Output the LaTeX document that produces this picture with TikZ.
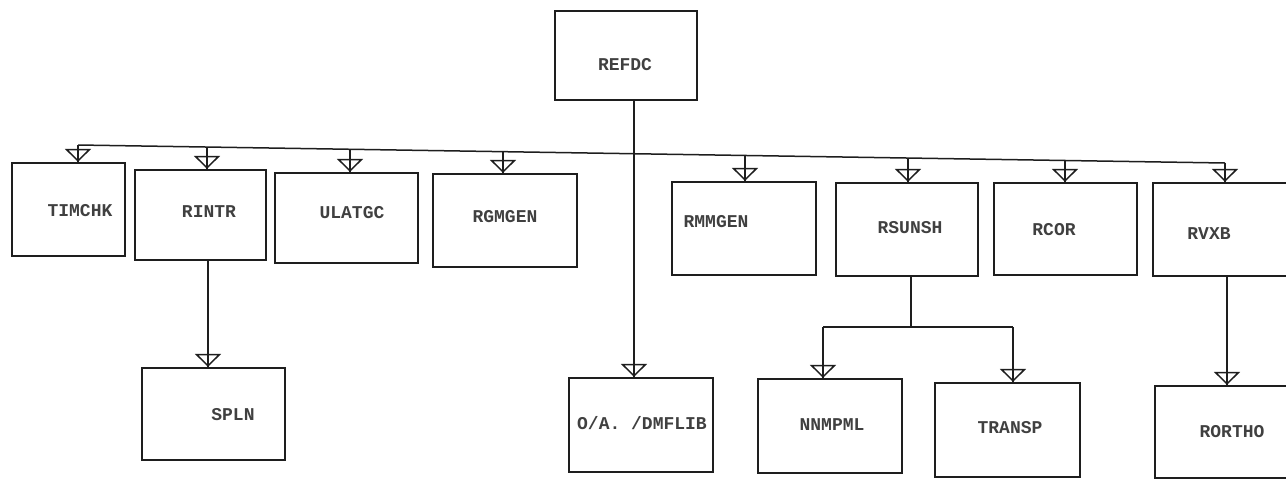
\documentclass[tikz,border=0pt]{standalone}
\usepackage{fontspec}
\setmonofont{Liberation Mono}
\usetikzlibrary{arrows.meta,decorations.markings}
\definecolor{ink}{RGB}{30,30,30}
\tikzset{
  box/.style={draw=ink, line width=2.2pt, rectangle, inner sep=0pt},
  lbl/.style={font=\ttfamily\bfseries\fontsize{18}{18}\selectfont, text=ink!85, inner sep=0pt},
  conn/.style={draw=ink, line width=1.5pt},
  opentip/.style={postaction={decorate}, decoration={markings,
     mark=at position 1 with {\arrow[ink, line width=1.5pt]{Triangle[open, width=26pt, length=13pt]}}}}
}
\newcommand{\boxat}[5]{\node[box, minimum width={(#4-#2)*1pt}, minimum height={(#5-#3)*1pt}] (#1) at ({(#2+#4)/2},{(#3+#5)/2}) {};}
\begin{document}
\begin{tikzpicture}[x=1pt,y=-1pt]
\clip (0,0) rectangle (1286,491);
\fill[white] (0,0) rectangle (1286,491);
% boxes
\boxat{refdc}{555}{11}{697}{100}
\boxat{timchk}{12}{163}{125}{256}
\boxat{rintr}{135}{170}{266}{260}
\boxat{ulatgc}{275}{173}{418}{263}
\boxat{rgmgen}{433}{174}{577}{267}
\boxat{rmmgen}{672}{182}{816}{275}
\boxat{rsunsh}{836}{183}{978}{276}
\boxat{rcor}{994}{183}{1137}{275}
\boxat{rvxb}{1153}{183}{1300}{276}
\boxat{spln}{142}{368}{285}{460}
\boxat{oadmf}{569}{378}{713}{472}
\boxat{nnmpml}{758}{379}{902}{473}
\boxat{transp}{935}{383}{1080}{477}
\boxat{rortho}{1155}{386}{1300}{478}
% labels
\node[lbl] (t-refdc) at (625,65) {REFDC};
\node[lbl] (t-timchk) at (80,211) {TIMCHK};
\node[lbl] (t-rintr) at (209,212) {RINTR};
\node[lbl] (t-ulatgc) at (352,213) {ULATGC};
\node[lbl] (t-rgmgen) at (505,217) {RGMGEN};
\node[lbl] (t-rmmgen) at (716,222) {RMMGEN};
\node[lbl] (t-rsunsh) at (910,228) {RSUNSH};
\node[lbl] (t-rcor) at (1054,230) {RCOR};
\node[lbl] (t-rvxb) at (1209,234) {RVXB};
\node[lbl] (t-spln) at (233,415) {SPLN};
\node[lbl] (t-oadmf) at (642,423) {O/A. /DMFLIB};
\node[lbl] (t-nnmpml) at (832,425) {NNMPML};
\node[lbl] (t-transp) at (1010,428) {TRANSP};
\node[lbl] (t-rortho) at (1232,432) {RORTHO};
% bus
\coordinate (b1) at (78,145);
\coordinate (b2) at (207,147);
\coordinate (b3) at (350,149.3);
\coordinate (b4) at (503,151.7);
\coordinate (b5) at (745,155.5);
\coordinate (b6) at (908,158);
\coordinate (b7) at (1065,160.5);
\coordinate (b8) at (1225,163);
\draw[conn] (b1) -- (b8);
\foreach \b/\n in {b1/timchk,b2/rintr,b3/ulatgc,b4/rgmgen,b5/rmmgen,b6/rsunsh,b7/rcor,b8/rvxb}
  \draw[conn, opentip] (\b) -- (\b |- \n.north);
% REFDC to O/A
\coordinate (r1) at (634,100);
\draw[conn, opentip] (r1) -- (r1 |- oadmf.north);
% RINTR to SPLN
\coordinate (s1) at (208,260);
\draw[conn, opentip] (s1) -- (s1 |- spln.north);
% RSUNSH split
\coordinate (u0) at (911,276);
\coordinate (u1) at (911,327);
\coordinate (u2) at (823,327);
\coordinate (u3) at (1013,327);
\draw[conn] (u0) -- (u1);
\draw[conn] (u2) -- (u3);
\draw[conn, opentip] (u2) -- (u2 |- nnmpml.north);
\draw[conn, opentip] (u3) -- (u3 |- transp.north);
% RVXB to RORTHO
\coordinate (v1) at (1227,276);
\draw[conn, opentip] (v1) -- (v1 |- rortho.north);
\end{tikzpicture}
\end{document}
